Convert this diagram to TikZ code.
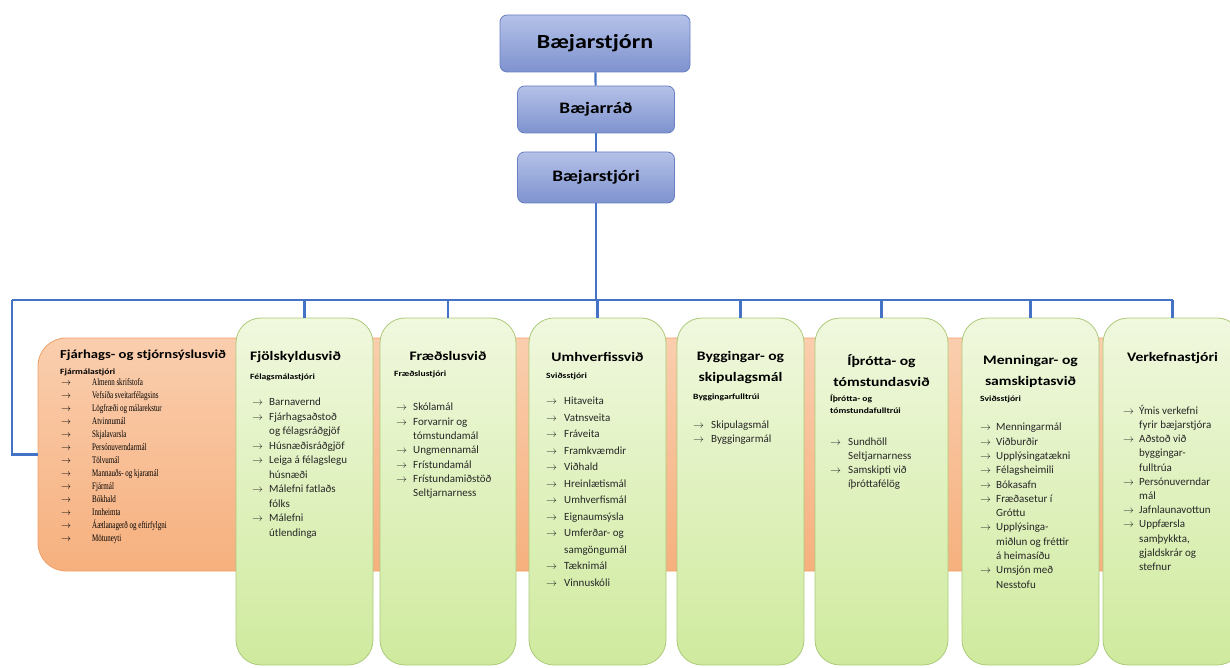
\documentclass[tikz,border=0pt]{standalone}
\usepackage{fontspec}
\setmainfont{Carlito}
\newfontfamily\headfont[FakeStretch=1.2]{Carlito}
\newfontfamily\taskserif[FakeStretch=0.7]{Liberation Serif}
\usetikzlibrary{calc}
\definecolor{linkblue}{RGB}{68,114,196}
\definecolor{chieftop}{RGB}{180,193,232}
\definecolor{chiefbot}{RGB}{126,146,206}
\definecolor{chiefedge}{RGB}{105,128,195}
\definecolor{unittop}{RGB}{240,248,222}
\definecolor{unitbot}{RGB}{207,234,158}
\definecolor{unitedge}{RGB}{172,202,122}
\definecolor{stafftop}{RGB}{250,206,174}
\definecolor{staffbot}{RGB}{246,176,126}
\definecolor{staffedge}{RGB}{240,160,105}
\newlength{\arw}
\newcommand{\tsk}[1]{\makebox[\arw][l]{$\rightarrow$}#1}% task with arrow
\newcommand{\cnt}[1]{\hspace*{\arw}#1}% task going on in the next line

\begin{document}
\begin{tikzpicture}[
  x=1pt, y=-1pt,
  chief/.style={
    % The shape:
    rectangle, rounded corners=7pt,
    % The border:
    draw=chiefedge, thick,
    % The filling:
    top color=chieftop, bottom color=chiefbot,
    % Font
    font=\headfont\bfseries\fontsize{16}{19}\selectfont
  },
  unit/.style={
    rectangle, rounded corners=25pt,
    draw=unitedge, thick,
    top color=unittop, bottom color=unitbot,
    minimum height=347, inner sep=0pt
  },
  staff/.style={
    rectangle, rounded corners=28pt,
    draw=staffedge, thick,
    top color=stafftop, bottom color=staffbot,
    inner sep=0pt
  },
  link/.style={draw=linkblue, line width=2.2pt},
  divname/.style={font=\headfont\bfseries\fontsize{13}{21}\selectfont, align=center, inner sep=0pt},
  rolename/.style={font=\headfont\bfseries\fontsize{8}{12}\selectfont, align=left, inner sep=0pt, anchor=west},
  tasklist/.style={anchor=north west, align=left, inner sep=0pt, text=black!85,
    font=\fontsize{11}{14.5}\selectfont\setlength{\arw}{17pt}},
  ]
  \useasboundingbox (0,0) rectangle (1230,668);
  \clip (0,0) rectangle (1230,668);

  % top of the chart
  \node (bstjorn) [chief, minimum width=190, minimum height=57,
    font=\headfont\bfseries\fontsize{20}{24}\selectfont] at (595,43.5) {Bæjarstjórn};
  \node (brad) [chief, minimum width=157, minimum height=47] at (596,109.5) {Bæjarráð};
  \node (bstjori) [chief, minimum width=157, minimum height=51] at (596,177.5) {Bæjarstjóri};

  % orange band behind the units
  \node (fjarhag) [staff, minimum width=1162, minimum height=233] at (619,454.5) {};

  % the units
  \foreach \n/\x/\w in {fjolsk/304.5/137, fraedsla/448/136, umhverfi/597.5/137,
    bygging/740.5/127, ithrott/881.5/133, menning/1030.5/137, verkefni/1172.5/139}
  {
    \node (\n) [unit, minimum width=\w] at (\x,491.5) {};
  }

  % Fjárhags- og stjórnsýslusvið
  \node (fjarhag-t) [divname, anchor=west, font=\headfont\bfseries\fontsize{12.2}{15}\selectfont] at (60,355) {Fjárhags- og stjórnsýslusvið};
  \node (fjarhag-r) [rolename] at (60,372) {Fjármálastjóri};
  \node (fjarhag-l) [tasklist, text=black,
    font=\taskserif\fontsize{10}{13}\selectfont\setlength{\arw}{31pt}] at (61,378)
    {\tsk{Almenn skrifstofa}\\ \tsk{Vefsíða sveitarfélagsins}\\ \tsk{Lögfræði og málarekstur}\\
     \tsk{Atvinnumál}\\ \tsk{Skjalavarsla}\\ \tsk{Persónuverndarmál}\\ \tsk{Tölvumál}\\
     \tsk{Mannauðs- og kjaramál}\\ \tsk{Fjármál}\\ \tsk{Bókhald}\\ \tsk{Innheimta}\\
     \tsk{Áætlanagerð og eftirfylgni}\\ \tsk{Mötuneyti}};

  % Fjölskyldusvið
  \node (fjolsk-t) [divname, anchor=west] at (250,357) {Fjölskyldusvið};
  \node (fjolsk-r) [rolename] at (250,377) {Félagsmálastjóri};
  \node (fjolsk-l) [tasklist] at (252,398)
    {\tsk{Barnavernd}\\ \tsk{Fjárhagsaðstoð}\\ \cnt{og félagsráðgjöf}\\ \tsk{Húsnæðisráðgjöf}\\
     \tsk{Leiga á félagslegu}\\ \cnt{húsnæði}\\ \tsk{Málefni fatlaðs}\\ \cnt{fólks}\\
     \tsk{Málefni}\\ \cnt{útlendinga}};

  % Fræðslusvið
  \node (fraedsla-t) [divname] at (448,356) {Fræðslusvið};
  \node (fraedsla-r) [rolename] at (394,374) {Fræðslustjóri};
  \node (fraedsla-l) [tasklist, font=\fontsize{11}{14.3}\selectfont\setlength{\arw}{17pt}] at (396,403)
    {\tsk{Skólamál}\\ \tsk{Forvarnir og}\\ \cnt{tómstundamál}\\ \tsk{Ungmennamál}\\
     \tsk{Frístundamál}\\ \tsk{Frístundamiðstöð}\\ \cnt{Seltjarnarness}};

  % Umhverfissvið
  \node (umhverfi-t) [divname] at (597.5,357) {Umhverfissvið};
  \node (umhverfi-r) [rolename] at (546,376) {Sviðsstjóri};
  \node (umhverfi-l) [tasklist, font=\fontsize{11}{16.5}\selectfont\setlength{\arw}{18pt}] at (546,397)
    {\tsk{Hitaveita}\\ \tsk{Vatnsveita}\\ \tsk{Fráveita}\\ \tsk{Framkvæmdir}\\ \tsk{Viðhald}\\
     \tsk{Hreinlætismál}\\ \tsk{Umhverfismál}\\ \tsk{Eignaumsýsla}\\ \tsk{Umferðar- og}\\
     \cnt{samgöngumál}\\ \tsk{Tæknimál}\\ \tsk{Vinnuskóli}};

  % Byggingar- og skipulagsmál
  \node (bygging-t) [divname] at (740.5,368) {Byggingar- og\\skipulagsmál};
  \node (bygging-r) [rolename] at (693,397) {Byggingarfulltrúi};
  \node (bygging-l) [tasklist, font=\fontsize{11}{14}\selectfont\setlength{\arw}{18pt}] at (693,421)
    {\tsk{Skipulagsmál}\\ \tsk{Byggingarmál}};

  % Íþrótta- og tómstundasvið
  \node (ithrott-t) [divname] at (881.5,371) {Íþrótta- og\\tómstundasvið};
  \node (ithrott-r) [rolename, anchor=north west] at (830,395) {Íþrótta- og\\tómstundafulltrúi};
  \node (ithrott-l) [tasklist, font=\fontsize{11}{14}\selectfont\setlength{\arw}{18pt}] at (830,438)
    {\tsk{Sundhöll}\\ \cnt{Seltjarnarness}\\ \tsk{Samskipti við}\\ \cnt{íþróttafélög}};

  % Menningar- og samskiptasvið
  \node (menning-t) [divname] at (1030.5,371) {Menningar- og\\samskiptasvið};
  \node (menning-r) [rolename] at (980,399) {Sviðsstjóri};
  \node (menning-l) [tasklist, font=\fontsize{11}{14.3}\selectfont\setlength{\arw}{16pt}] at (980,423)
    {\tsk{Menningarmál}\\ \tsk{Viðburðir}\\ \tsk{Upplýsingatækni}\\ \tsk{Félagsheimili}\\
     \tsk{Bókasafn}\\ \tsk{Fræðasetur í}\\ \cnt{Gróttu}\\ \tsk{Upplýsinga-}\\
     \cnt{miðlun og fréttir}\\ \cnt{á heimasíðu}\\ \tsk{Umsjón með}\\ \cnt{Nesstofu}};

  % Verkefnastjóri
  \node (verkefni-t) [divname] at (1172.5,358) {Verkefnastjóri};
  \node (verkefni-l) [tasklist, font=\fontsize{11}{14.2}\selectfont\setlength{\arw}{16pt}] at (1123,405)
    {\tsk{Ýmis verkefni}\\ \cnt{fyrir bæjarstjóra}\\ \tsk{Aðstoð við}\\ \cnt{byggingar-}\\
     \cnt{fulltrúa}\\ \tsk{Persónuverndar}\\ \cnt{mál}\\ \tsk{Jafnlaunavottun}\\
     \tsk{Uppfærsla}\\ \cnt{samþykkta,}\\ \cnt{gjaldskrár og}\\ \cnt{stefnur}};

  % lines of the chart
  \coordinate (bus) at (12,300);
  \draw [link] (bstjorn) -- (brad);
  \draw [link] (brad) -- (bstjori);
  \draw [link] (bstjori) -- (bstjori |- bus);
  \draw [link] (bus) -- (bus -| verkefni.north);
  \draw [link] (bus) |- (fjarhag.west);
  \foreach \n in {fjolsk, fraedsla, umhverfi, bygging, ithrott, menning, verkefni}
  {
    \draw [link] (\n.north |- bus) -- (\n.north);
  }

\end{tikzpicture}
\end{document}
